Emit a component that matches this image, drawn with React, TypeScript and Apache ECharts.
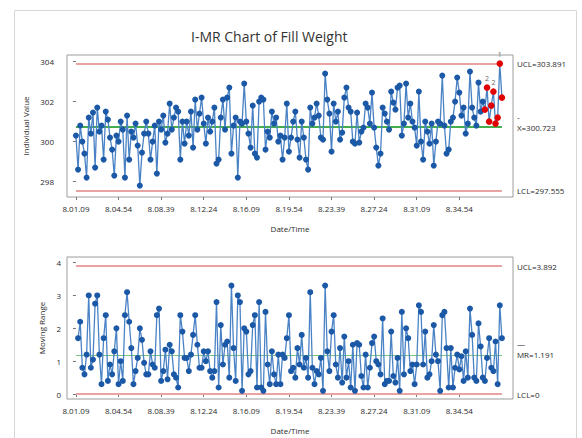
import React, { useEffect, useRef } from "react";
import * as echarts from "echarts";

// Time stamps printed on the x axes (one every LABEL_STEP observations)
const TIME_LABELS = ["8.01.09", "8.04.54", "8.08.39", "8.12.24", "8.16.09", "8.19.54", "8.23.39", "8.27.24", "8.31.09", "8.34.54"];
const LABEL_STEP = 20;

// Individual fill weights, in order of observation
const FILL_WEIGHT = [
  300.3, 298.6, 300.8, 300.0, 299.4, 298.2, 301.2, 300.4, 301.45, 298.7,
  301.7, 300.5, 300.8, 299.1, 301.5, 301.1, 300.2, 299.6, 298.3, 300.3,
  300.0, 301.0, 300.6, 298.2, 301.3, 299.1, 300.5, 300.2, 300.9, 299.8,
  297.8, 299.45, 300.4, 301.0, 300.4, 299.1, 300.0, 300.8, 298.4, 301.0,
  300.6, 301.3, 299.95, 300.4, 301.9, 300.6, 301.2, 301.7, 301.5, 299.1,
  301.0, 299.9, 301.0, 300.3, 301.5, 299.7, 302.1, 300.6, 301.4, 302.2,
  300.9, 299.9, 301.2, 300.5, 301.0, 301.7, 298.9, 299.1, 301.2, 302.1,
  300.6, 302.2, 302.7, 299.4, 300.8, 301.2, 298.2, 301.0, 300.9, 302.9,
  301.0, 300.4, 299.7, 301.8, 299.4, 299.2, 302.0, 302.2, 302.1, 299.6,
  300.5, 300.2, 301.5, 300.9, 301.2, 300.0, 300.3, 299.1, 300.2, 301.9,
  299.5, 300.2, 301.0, 301.5, 300.1, 299.2, 301.0, 300.2, 299.1, 298.6,
  301.7, 300.9, 301.2, 301.9, 301.3, 300.2, 300.1, 303.4, 302.1, 301.4,
  299.5, 301.9, 301.0, 301.5, 300.1, 300.45, 302.2, 302.7, 301.7, 301.5,
  300.0, 299.9, 301.45, 299.95, 300.5, 300.7, 301.9, 301.7, 300.9, 302.45,
  300.7, 299.7, 298.8, 299.4, 301.7, 301.4, 301.0, 300.6, 302.5, 301.95,
  301.6, 302.7, 302.8, 300.3, 300.9, 302.9, 301.2, 301.9, 301.0, 300.7,
  299.8, 302.5, 300.0, 299.1, 301.0, 300.5, 299.9, 300.9, 298.8, 300.0,
  301.0, 300.9, 303.3, 300.8, 299.4, 299.6, 301.0, 301.2, 302.0, 303.2,
  302.45, 301.3, 301.7, 300.4, 300.9, 303.5, 301.7, 301.2, 300.8, 302.95,
  301.5, 302.0, 301.6, 302.7, 301.0, 301.8, 302.5, 300.9, 301.2, 303.9,
  302.2,
];

// Control limits printed on the chart
const I_UCL = 303.891;
const I_CENTER = 300.723;
const I_LCL = 297.555;
const MR_UCL = 3.892;
const MR_CENTER = 1.191;
const MR_LCL = 0;

// Test numbers printed next to some failing points: [observation index, test]
const TEST_LABELS: [number, string][] = [[193, "2"], [196, "2"], [199, "1"]];
const RUN_LENGTH = 9;

// Axis tick values
const I_TICKS = [298, 300, 302, 304];
const MR_TICKS = [0, 1, 2, 3, 4];

const FONT = "'Open Sans', 'Noto Sans', sans-serif";
const BLUE = "#1b58a6";
const LINE_BLUE = "#4a83c5";
const RED = "#e00000";
const LIMIT = "#e9a3a3";
const TEXT = "#2a2a2a";

export default function App() {
  const ref = useRef<HTMLDivElement>(null);

  useEffect(() => {
    if (!ref.current) return;
    const chart = echarts.init(ref.current, undefined, { renderer: "svg" });
    const n = FILL_WEIGHT.length;

    const mr = FILL_WEIGHT.map((v, i) => (i === 0 ? null : +Math.abs(v - FILL_WEIGHT[i - 1]).toFixed(3)));

    const failed = FILL_WEIGHT.map((v, i) => {
      if (v > I_UCL || v < I_LCL) return true;
      if (i < RUN_LENGTH - 1) return false;
      const run = FILL_WEIGHT.slice(i - RUN_LENGTH + 1, i + 1);
      return run.every((x) => x > I_CENTER) || run.every((x) => x < I_CENTER);
    });

    const indivData = FILL_WEIGHT.map((v, i) => {
      const lbl = TEST_LABELS.find((t) => t[0] === i);
      const item: any = { value: [i, v] };
      if (failed[i]) {
        item.itemStyle = { color: RED };
        item.symbolSize = 6.5;
      }
      if (lbl) {
        item.label = { show: true, formatter: lbl[1], position: "top", distance: 2, fontSize: 7, color: "#666", fontFamily: FONT };
      }
      return item;
    });
    const mrData = mr.map((v, i) => (v === null ? null : [i, v])).filter((d) => d !== null);

    const timeLabel = (v: number) => {
      const k = Math.round(v / LABEL_STEP);
      return TIME_LABELS[k] ?? "";
    };
    const tickValues = TIME_LABELS.map((_, k) => k * LABEL_STEP);

    const limitLine = (y: number, text: string, color: string, width: number, rich?: any) => [
      {
        coord: [0, y],
        lineStyle: { color, width, type: "solid" },
        label: {
          show: true,
          position: "end",
          distance: 15,
          formatter: text,
          fontSize: 8,
          color: TEXT,
          fontFamily: FONT,
          rich,
        },
      },
      { coord: [n - 1, y] },
    ];

    const barRich = {
      b: { fontSize: 8, lineHeight: 12, color: TEXT, fontFamily: FONT },
      t: { fontSize: 8, lineHeight: 10, color: TEXT, fontFamily: FONT },
    };

    const xAxisBase = (gridIndex: number) => ({
      type: "value",
      gridIndex,
      min: -4.2,
      max: n - 1 + 5.2,
      name: "Date/Time",
      nameLocation: "middle",
      nameGap: 27,
      nameTextStyle: { fontSize: 8, color: TEXT, fontFamily: FONT },
      axisLine: { show: false },
      splitLine: { show: false },
      axisTick: { show: true, length: 3, lineStyle: { color: "#777" }, customValues: tickValues },
      axisLabel: { fontSize: 8, color: TEXT, fontFamily: FONT, margin: 7, customValues: tickValues, formatter: timeLabel },
    });

    const option: any = {
      animation: false,
      backgroundColor: "#ffffff",
      title: {
        text: "I-MR Chart of Fill Weight",
        left: 186,
        top: 24,
        textStyle: { fontSize: 14, fontWeight: 500, color: "#333", fontFamily: FONT },
      },
      graphic: [
        {
          type: "rect",
          silent: true,
          z: -10,
          shape: { x: 14.5, y: 10.5, width: 562, height: 440 },
          style: { fill: "none", stroke: "#d6d6d6", lineWidth: 1 },
        },
      ],
      grid: [
        { left: 67, right: 69, top: 55, height: 142, show: true, borderColor: "#9c9c9c", borderWidth: 1, backgroundColor: "#fff" },
        { left: 67, right: 69, top: 257, height: 142, show: true, borderColor: "#9c9c9c", borderWidth: 1, backgroundColor: "#fff" },
      ],
      xAxis: [xAxisBase(0), xAxisBase(1)],
      yAxis: [
        {
          type: "value",
          gridIndex: 0,
          min: 297.23,
          max: 304.33,
          name: "Individual Value",
          nameLocation: "middle",
          nameGap: 31,
          nameTextStyle: { fontSize: 8, color: TEXT, fontFamily: FONT },
          axisLine: { show: false },
          splitLine: { show: false },
          axisTick: { show: true, length: 3, lineStyle: { color: "#777" }, customValues: I_TICKS },
          axisLabel: { fontSize: 8, color: TEXT, fontFamily: FONT, margin: 13, customValues: I_TICKS },
        },
        {
          type: "value",
          gridIndex: 1,
          min: -0.15,
          max: 4.17,
          name: "Moving Range",
          nameLocation: "middle",
          nameGap: 21,
          nameTextStyle: { fontSize: 8, color: TEXT, fontFamily: FONT },
          axisLine: { show: false },
          splitLine: { show: false },
          axisTick: { show: true, length: 3, lineStyle: { color: "#777" }, customValues: MR_TICKS },
          axisLabel: { fontSize: 8, color: TEXT, fontFamily: FONT, margin: 6, customValues: MR_TICKS },
        },
      ],
      series: [
        {
          type: "line",
          name: "Individual",
          xAxisIndex: 0,
          yAxisIndex: 0,
          data: indivData,
          symbol: "circle",
          symbolSize: 6,
          showSymbol: true,
          lineStyle: { color: LINE_BLUE, width: 1.3 },
          itemStyle: { color: BLUE },
          z: 3,
          markLine: {
            silent: true,
            symbol: "none",
            z: 2,
            data: [
              limitLine(I_UCL, `UCL=${I_UCL}`, LIMIT, 2),
              limitLine(I_CENTER, `{b|-}\n{t|X=${I_CENTER}}\n{b| }`, "#45ad4c", 2, barRich),
              limitLine(I_LCL, `LCL=${I_LCL}`, LIMIT, 2),
            ],
          },
        },
        {
          type: "line",
          name: "Moving Range",
          xAxisIndex: 1,
          yAxisIndex: 1,
          data: mrData,
          symbol: "circle",
          symbolSize: 6,
          showSymbol: true,
          lineStyle: { color: LINE_BLUE, width: 1.3 },
          itemStyle: { color: BLUE },
          z: 3,
          markLine: {
            silent: true,
            symbol: "none",
            z: 2,
            data: [
              limitLine(MR_UCL, `UCL=${MR_UCL}`, LIMIT, 2),
              limitLine(MR_CENTER, `{b|—}\n{t|MR=${MR_CENTER}}\n{b| }`, "#7cc47c", 1.2, barRich),
              limitLine(MR_LCL, `LCL=${MR_LCL}`, LIMIT, 2),
            ],
          },
        },
      ],
    };

    chart.setOption(option);
    return () => chart.dispose();
  }, []);

  return <div ref={ref} style={{ position: "fixed", left: 0, top: 0, width: 582, height: 438 }} />;
}
